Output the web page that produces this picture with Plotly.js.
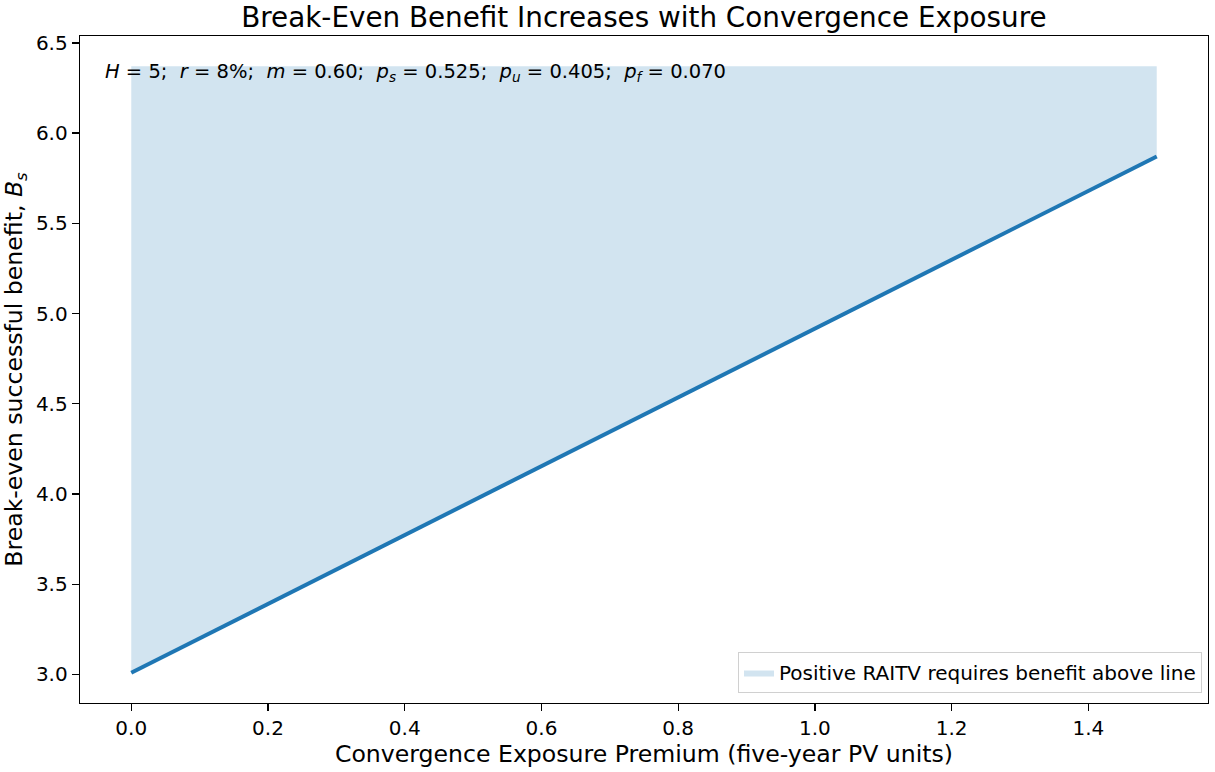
<!DOCTYPE html>
<html>
<head>
<meta charset="utf-8">
<script src="https://cdn.plot.ly/plotly-3.0.1.min.js"></script>
<style>
  html, body { margin: 0; padding: 0; background: #fff; }
  #chart { width: 1215px; height: 772px; }
</style>
</head>
<body>
<div id="chart"></div>
<script>
// Convergence exposure premium (x) and break-even benefit (y)
const premium = [0.0, 1.5];
const breakEven = [3.01, 5.87];
// Upper edge of the shaded "positive RAITV" region
const shadeTop = [6.37, 6.37];

const xTicks = [0.0, 0.2, 0.4, 0.6, 0.8, 1.0, 1.2, 1.4];
const yTicks = [3.0, 3.5, 4.0, 4.5, 5.0, 5.5, 6.0, 6.5];

const FONT = "DejaVu Sans, Liberation Sans, sans-serif";
const BLUE = "#1f77b4";

const traces = [
  {
    x: premium,
    y: shadeTop,
    mode: "lines",
    line: { width: 0, color: "rgba(0,0,0,0)" },
    showlegend: false,
    hoverinfo: "skip",
  },
  {
    x: premium,
    y: breakEven,
    mode: "lines",
    fill: "tonexty",
    fillcolor: "rgba(31,119,180,0.2)",
    line: { width: 0, color: "rgba(0,0,0,0)" },
    name: "Positive RAITV requires benefit above line",
    hoverinfo: "skip",
  },
  {
    x: premium,
    y: breakEven,
    mode: "lines",
    line: { color: BLUE, width: 4 },
    showlegend: false,
  },
];

const axisCommon = {
  showline: true,
  mirror: true,
  linecolor: "#000",
  linewidth: 1.3,
  showgrid: false,
  zeroline: false,
  ticks: "outside",
  ticklen: 7,
  tickwidth: 1.3,
  tickcolor: "#000",
  tickfont: { family: FONT, size: 20, color: "#000" },
};

const layout = {
  width: 1215,
  height: 772,
  paper_bgcolor: "#fff",
  plot_bgcolor: "#fff",
  margin: { l: 80, r: 7, t: 36, b: 69 },
  font: { family: FONT, color: "#000" },
  title: {
    text: "Break-Even Benefit Increases with Convergence Exposure",
    font: { family: FONT, size: 27.8, color: "#000" },
    x: 0.53,
    xanchor: "center",
    y: 0.977,
    yanchor: "middle",
  },
  xaxis: {
    ...axisCommon,
    range: [-0.075, 1.575],
    tickvals: xTicks,
    ticktext: xTicks.map((v) => v.toFixed(1)),
    title: {
      text: "Convergence Exposure Premium (five-year PV units)",
      font: { family: FONT, size: 23.6, color: "#000" },
      standoff: 6,
    },
  },
  yaxis: {
    ...axisCommon,
    range: [2.842, 6.538],
    tickvals: yTicks,
    ticktext: yTicks.map((v) => v.toFixed(1)),
    title: {
      text: "Break-even successful benefit, <i>B<sub>s</sub></i>",
      font: { family: FONT, size: 23.6, color: "#000" },
      standoff: 8,
    },
  },
  showlegend: true,
  legend: {
    x: 0.9947,
    y: 0.015,
    xanchor: "right",
    yanchor: "bottom",
    bgcolor: "rgba(255,255,255,0.8)",
    bordercolor: "#d0d0d0",
    borderwidth: 1,
    font: { family: FONT, size: 20, color: "#000" },
  },
  annotations: [
    {
      xref: "paper",
      yref: "paper",
      x: 0.0204,
      y: 0.945,
      xanchor: "left",
      yanchor: "middle",
      showarrow: false,
      text:
        "<i>H</i> = 5;  <i>r</i> = 8%;  <i>m</i> = 0.60;  " +
        "<i>p<sub>s</sub></i> = 0.525;  <i>p<sub>u</sub></i> = 0.405;  " +
        "<i>p<sub>f</sub></i> = 0.070",
      font: { family: FONT, size: 19.5, color: "#000" },
    },
  ],
};

Plotly.newPlot("chart", traces, layout, { displayModeBar: false, staticPlot: true });
</script>
</body>
</html>
